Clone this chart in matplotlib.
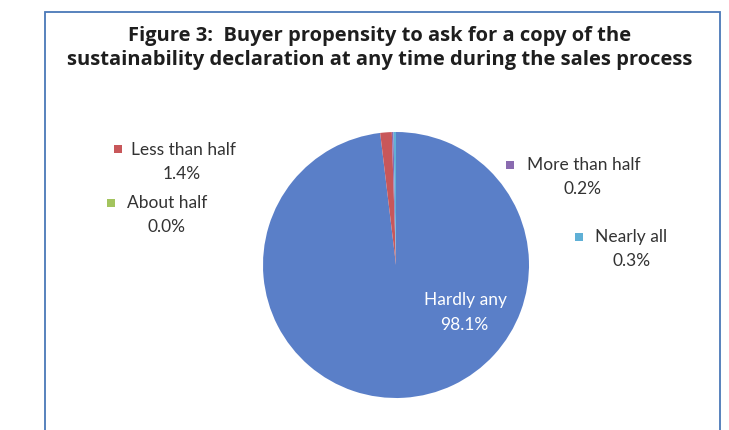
import matplotlib.pyplot as plt
from matplotlib.patches import Rectangle

# data (clockwise from 12 o'clock)
categories = ['Hardly any', 'Less than half', 'About half', 'More than half', 'Nearly all']
shares = [98.1, 1.4, 0.0, 0.2, 0.3]
colors = ['#5a7fc8', '#c8575a', '#a3c45e', '#8a6bb0', '#5fb0d6']

title = ('Figure 3:  Buyer propensity to ask for a copy of the\n'
         'sustainability declaration at any time during the sales process')

W, H = 729, 430
fig = plt.figure(figsize=(W / 100, H / 100), dpi=100)
fig.patch.set_facecolor('white')


def fx(px):
    return px / W


def fy(py):
    return 1 - py / H


# chart frame
fig.add_artist(Rectangle((fx(45), fy(440)), fx(720) - fx(45), fy(12) - fy(440),
                         transform=fig.transFigure, fill=False,
                         edgecolor='#4a78b8', linewidth=1.3))

fig.text(fx(380), fy(48), title, ha='center', va='center', fontsize=14.5,
         fontweight='bold', family='Open Sans', color='#1e1e1e', linespacing=1.3)

# pie, centre ~ (396, 265), radius ~133 px
cx, cy, r = 396, 265, 133
ax = fig.add_axes([fx(cx - r), fy(cy + r), 2 * r / W, 2 * r / H])
ax.pie(shares, colors=colors, startangle=90, counterclock=False,
       wedgeprops=dict(linewidth=0))
ax.set_xlim(-1, 1)
ax.set_ylim(-1, 1)
ax.set_aspect('equal')
ax.axis('off')

# data labels with legend keys: (key x, key y, name centre x, value centre x, name y)
label_pos = {
    'Less than half': (118, 149, 184, 182, 150),
    'About half': (111, 203, 167, 167, 203),
    'More than half': (510, 165, 584, 583, 165),
    'Nearly all': (579, 237, 631, 632, 237),
}
txt = dict(family='Lato', fontsize=12.5, color='#333333', va='center')
for name, share, col in zip(categories, shares, colors):
    if name not in label_pos:
        continue
    kx, ky, nx, vx, ny = label_pos[name]
    fig.add_artist(Rectangle((fx(kx - 4), fy(ky + 4)), fx(8), 8 / H,
                             transform=fig.transFigure, facecolor=col,
                             edgecolor='none'))
    fig.text(fx(nx), fy(ny), name, ha='center', **txt)
    fig.text(fx(vx), fy(ny + 24), f'{share:.1f}%', ha='center', **txt)

# label inside the big slice
fig.text(fx(465), fy(300), categories[0], ha='center', va='center',
         family='Lato', fontsize=12.5, color='white')
fig.text(fx(464), fy(325), f'{shares[0]:.1f}%', ha='center', va='center',
         family='Lato', fontsize=12.5, color='white')

fig.savefig('out.png', dpi=100, facecolor='white')
